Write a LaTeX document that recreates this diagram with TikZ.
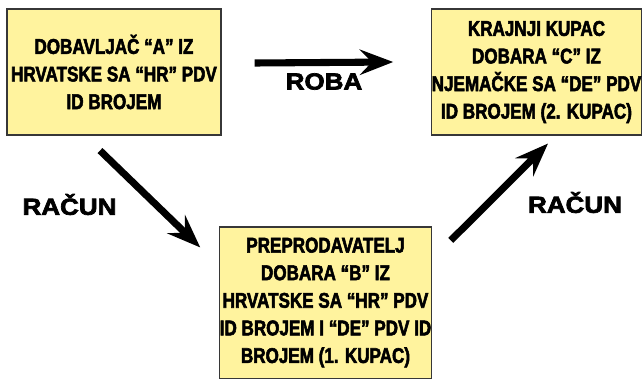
\documentclass[tikz,border=0pt]{standalone}
\usepackage{fontspec}
\setmainfont{Liberation Sans}
\newfontfamily\boxfont{Liberation Sans Bold}[FakeStretch=0.8,FakeBold=2.5]
\newfontfamily\labelfont{Liberation Sans Bold}[FakeStretch=1.12,FakeBold=3]
\usetikzlibrary{arrows.meta, positioning}

\definecolor{boxyellow}{RGB}{255,243,158}
\definecolor{boxline}{RGB}{55,55,55}

\tikzset{
  party/.style={draw=boxline, fill=boxyellow, line width=0.8pt, inner sep=0pt,
    align=center, font=\boxfont\fontsize{16}{20.7}\selectfont},
  flow/.style={line width=5.3pt, -{Stealth[length=25pt, width=19pt, inset=9pt]}},
  flowlabel/.style={font=\labelfont\fontsize{17.4}{20}\selectfont}
}

\begin{document}
\begin{tikzpicture}[x=0.75pt, y=-0.75pt]
  \useasboundingbox (0,0) rectangle (642,380);

  % sudionici
  \node[party, minimum width=160.5pt, minimum height=94.5pt] (A) at (114,72)
    {DOBAVLJAČ “A” IZ\\HRVATSKE SA “HR” PDV\\ID BROJEM};
  \node[party, minimum width=155.3pt, minimum height=94.5pt] (C) at (536.5,72)
    {KRAJNJI KUPAC\\DOBARA “C” IZ\\NJEMAČKE SA “DE” PDV\\ID BROJEM (2. KUPAC)};
  \node[party, minimum width=156.8pt, minimum height=113.3pt] (B) at (325.5,302.5)
    {PREPRODAVATELJ\\DOBARA “B” IZ\\HRVATSKE SA “HR” PDV\\ID BROJEM I “DE” PDV ID\\BROJEM (1. KUPAC)};

  % tokovi
  \draw[flow] ([shift={(33,-9)}]A.east) -- ([shift={(-38,-10)}]C.west);
  \draw[flow] ([shift={(-14,15)}]A.south) -- ([shift={(-19,21)}]B.north west);
  \draw[flow] ([shift={(19,14)}]B.north east) -- ([shift={(11.5,8)}]C.south);

  \node[flowlabel] (roba) at (324,81.5) {ROBA};
  \node[flowlabel] (racunAB) at (69.5,204.5) {RAČUN};
  \node[flowlabel] (racunBC) at (575,202.5) {RAČUN};
\end{tikzpicture}
\end{document}
